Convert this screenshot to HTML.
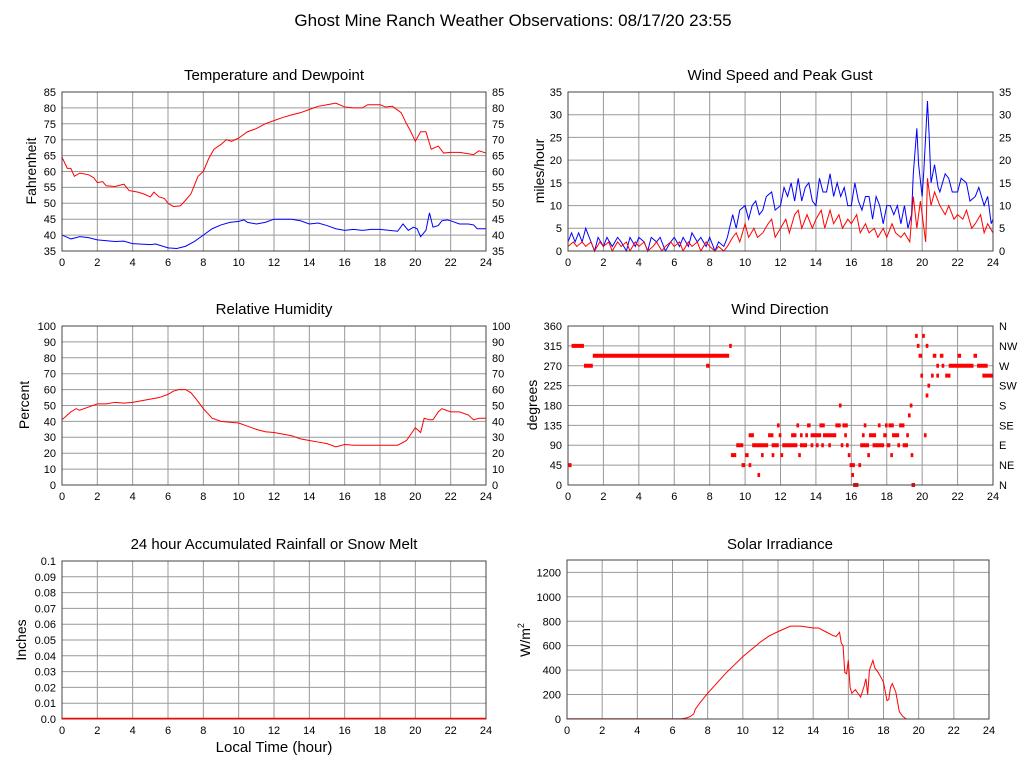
<!DOCTYPE html>
<html><head><meta charset="utf-8"><style>
html,body{margin:0;padding:0;background:#fff}
svg{display:block;font-family:"Liberation Sans",Arial,sans-serif}
.g{stroke:#999;stroke-width:1;fill:none;vector-effect:non-scaling-stroke}
.f{fill:none;stroke:#444;stroke-width:1}
.r{stroke:#f00;fill:none;stroke-width:1;vector-effect:non-scaling-stroke}
.b{stroke:#00f;fill:none;stroke-width:1;vector-effect:non-scaling-stroke}
.d{stroke:#f00;fill:none;stroke-width:4;vector-effect:non-scaling-stroke}
text{font-size:11px;fill:#000}
.t{font-size:15px}
.a{font-size:14px}
</style></head><body>
<svg width="1027" height="772" viewBox="0 0 1027 772">
<text x="513" y="26" class="t" style="font-size:17px" text-anchor="middle">Ghost Mine Ranch Weather Observations: 08/17/20 23:55</text>

<!-- A: Temperature -->
<text x="274" y="80" class="t" text-anchor="middle">Temperature and Dewpoint</text>
<g transform="translate(62,251) scale(17.667,-3.18) translate(0,-35)">
<path class="g" d="M2 35V85M4 35V85M6 35V85M8 35V85M10 35V85M12 35V85M14 35V85M16 35V85M18 35V85M20 35V85M22 35V85M0 40H24M0 45H24M0 50H24M0 55H24M0 60H24M0 65H24M0 70H24M0 75H24M0 80H24"/>
<polyline class="r" points="0,64.5 0.3,61 0.5,61 0.7,58.5 1,59.5 1.5,59 1.8,58 2,56.5 2.3,56.8 2.5,55.5 3,55.3 3.5,56 3.8,54 4.3,53.5 4.6,53 5,52 5.2,53.5 5.5,52 5.8,51.5 6,50 6.3,49 6.7,49.2 7,51 7.3,53 7.7,58.5 8,60 8.3,64 8.6,67 9,68.5 9.3,70 9.6,69.5 10,70.5 10.5,72.5 11,73.5 11.5,75 12,76 12.5,77 13,77.8 13.5,78.5 14,79.5 14.5,80.5 15,81 15.5,81.5 16,80.3 16.5,80 17,80 17.3,81 18,81 18.3,80.3 18.7,80.5 19.2,78.5 19.5,75 19.7,73 20,69.5 20.3,72.5 20.6,72.5 20.9,67 21.3,68 21.6,65.8 22,66 22.5,66 23.3,65.3 23.6,66.5 24,65.8"/>
<polyline class="b" points="0,40 0.3,39.3 0.5,38.8 0.8,39.2 1,39.5 1.5,39.2 2,38.5 3,38 3.5,38.1 4,37.3 5,37 5.3,37.2 6,36 6.5,35.8 7,36.5 7.5,38 8,40 8.5,42 9,43.2 9.5,44 10,44.3 10.3,44.8 10.5,44 11,43.5 11.5,44 12,45 13,45 13.5,44.5 14,43.5 14.5,43.8 15,43 15.5,42 16,41.5 16.5,41.8 17,41.5 17.5,41.8 18,41.8 19,41.2 19.3,43.5 19.6,41.5 19.9,42.5 20.1,42 20.3,39.5 20.6,41.5 20.8,47 21,42.5 21.3,43 21.5,44.5 21.8,44.8 22,44.5 22.5,43.5 23,43.5 23.3,43.2 23.5,42 24,42"/>
</g>
<rect class="f" x="62" y="92" width="424" height="159"/>
<g text-anchor="end"><text x="56" y="255">35</text><text x="56" y="239">40</text><text x="56" y="223">45</text><text x="56" y="207">50</text><text x="56" y="191">55</text><text x="56" y="175.5">60</text><text x="56" y="159.5">65</text><text x="56" y="143.5">70</text><text x="56" y="128">75</text><text x="56" y="112">80</text><text x="56" y="96">85</text></g>
<g><text x="492" y="255">35</text><text x="492" y="239">40</text><text x="492" y="223">45</text><text x="492" y="207">50</text><text x="492" y="191">55</text><text x="492" y="175.5">60</text><text x="492" y="159.5">65</text><text x="492" y="143.5">70</text><text x="492" y="128">75</text><text x="492" y="112">80</text><text x="492" y="96">85</text></g>
<g text-anchor="middle"><text x="62" y="266">0</text><text x="97.3" y="266">2</text><text x="132.7" y="266">4</text><text x="168" y="266">6</text><text x="203.3" y="266">8</text><text x="238.7" y="266">10</text><text x="274" y="266">12</text><text x="309.3" y="266">14</text><text x="344.7" y="266">16</text><text x="380" y="266">18</text><text x="415.3" y="266">20</text><text x="450.7" y="266">22</text><text x="486" y="266">24</text></g>
<text class="a" transform="translate(36,171) rotate(-90)" text-anchor="middle">Fahrenheit</text>

<!-- B: Wind speed -->
<text x="780" y="80" class="t" text-anchor="middle">Wind Speed and Peak Gust</text>
<g transform="translate(568,251) scale(17.708,-4.543)">
<path class="g" d="M2 0V35M4 0V35M6 0V35M8 0V35M10 0V35M12 0V35M14 0V35M16 0V35M18 0V35M20 0V35M22 0V35M0 5H24M0 10H24M0 15H24M0 20H24M0 25H24M0 30H24"/>
<polyline class="b" points="0,2 0.2,4 0.4,2 0.6,4 0.8,2 1,5 1.2,3 1.5,0 1.7,3 2,1 2.2,3 2.5,1 2.8,3 3,2 3.3,0 3.5,3 3.8,1 4,3 4.3,2 4.5,0 4.7,3 5,2 5.2,3 5.5,0 5.8,2 6,3 6.3,1 6.5,3 6.8,1 7,4 7.3,2 7.5,3 7.8,1 8,3 8.3,0 8.5,2 8.8,1 9,3 9.3,8 9.5,5 9.7,9 10,10 10.2,7 10.4,10 10.6,11 10.8,8 11,9 11.2,12 11.5,13 11.7,9 12,10 12.2,14 12.4,12 12.6,15 12.8,11 13,16 13.2,11 13.4,14 13.6,15 13.8,11 14,10 14.2,16 14.4,13 14.6,13 14.8,17 15,12 15.2,15 15.4,12 15.6,14 15.8,10 16,10 16.2,15 16.4,11 16.6,9 16.8,12 17,12 17.2,7 17.4,12 17.6,10 17.8,6 18,10 18.2,10 18.4,8 18.6,10 18.8,6 19,10 19.2,5 19.4,8 19.5,17 19.7,27 19.8,19 20,12 20.1,18 20.3,33 20.4,25 20.5,15 20.7,19 20.9,14 21,13 21.3,17 21.5,16 21.7,13 22,13 22.2,16 22.5,15 22.7,11 23,12 23.2,14 23.5,10 23.7,12 23.9,6 24,7"/>
<polyline class="r" points="0,1 0.3,2 0.5,1 0.8,2 1,1 1.3,2 1.5,0 1.8,2 2,1 2.3,2 2.5,0 2.8,2 3,1 3.3,2 3.5,0 3.8,2 4,1 4.3,2 4.5,0 4.8,1 5,2 5.3,0 5.5,1 5.8,2 6,1 6.3,2 6.5,0 6.8,2 7,1 7.3,2 7.5,0 7.8,2 8,1 8.3,0 8.5,1 8.8,0 9,1 9.3,3 9.5,4 9.7,2 10,6 10.2,3 10.5,5 10.7,3 11,4 11.3,6 11.5,7 11.7,3 12,5 12.3,7 12.5,4 12.8,8 13,9 13.2,5 13.5,8 13.8,5 14,7 14.3,9 14.5,5 14.8,9 15,6 15.3,8 15.5,5 15.8,7 16,6 16.3,8 16.5,4 16.8,6 17,4 17.3,5 17.5,3 17.8,5 18,3 18.3,6 18.5,4 18.8,3 19,4 19.3,2 19.5,12 19.7,5 19.9,11 20,8 20.2,2 20.3,16 20.5,10 20.7,13 21,10 21.3,8 21.5,10 21.8,7 22,8 22.3,7 22.5,9 22.8,5 23,6 23.3,8 23.5,4 23.7,6 24,4"/>
</g>
<rect class="f" x="568" y="92" width="425" height="159"/>
<g text-anchor="end"><text x="562" y="255">0</text><text x="562" y="232">5</text><text x="562" y="209.5">10</text><text x="562" y="187">15</text><text x="562" y="164">20</text><text x="562" y="141.5">25</text><text x="562" y="118.5">30</text><text x="562" y="96">35</text></g>
<g><text x="999" y="255">0</text><text x="999" y="232">5</text><text x="999" y="209.5">10</text><text x="999" y="187">15</text><text x="999" y="164">20</text><text x="999" y="141.5">25</text><text x="999" y="118.5">30</text><text x="999" y="96">35</text></g>
<g text-anchor="middle"><text x="568" y="266">0</text><text x="603.4" y="266">2</text><text x="638.8" y="266">4</text><text x="674.3" y="266">6</text><text x="709.7" y="266">8</text><text x="745.1" y="266">10</text><text x="780.5" y="266">12</text><text x="815.9" y="266">14</text><text x="851.3" y="266">16</text><text x="886.8" y="266">18</text><text x="922.2" y="266">20</text><text x="957.6" y="266">22</text><text x="993" y="266">24</text></g>
<text class="a" transform="translate(544,171) rotate(-90)" text-anchor="middle">miles/hour</text>

<!-- C: Humidity -->
<text x="274" y="314" class="t" text-anchor="middle">Relative Humidity</text>
<g transform="translate(62,485) scale(17.667,-1.59)">
<path class="g" d="M2 0V100M4 0V100M6 0V100M8 0V100M10 0V100M12 0V100M14 0V100M16 0V100M18 0V100M20 0V100M22 0V100M0 10H24M0 20H24M0 30H24M0 40H24M0 50H24M0 60H24M0 70H24M0 80H24M0 90H24"/>
<polyline class="r" points="0,41 0.3,44 0.5,46 0.8,48 1,47 1.5,49 2,51 2.5,51 3,52 3.5,51.5 4,52 4.5,53 5,54 5.5,55 6,57 6.3,59 6.6,60 7,60 7.3,58 7.6,54 8,48 8.5,42 9,40 9.5,39.5 10,39 10.5,37 11,35 11.5,33.5 12,33 12.5,32 13,31 13.5,29 14,28 14.5,27 15,26 15.5,24 16,25.5 16.5,25 17,25 18,25 19,25 19.5,28 20,36 20.3,33 20.5,42 20.8,41 21,41 21.3,46 21.5,48 22,46 22.5,46 23,44 23.3,41 23.6,42 24,42"/>
</g>
<rect class="f" x="62" y="326" width="424" height="159"/>
<g text-anchor="end"><text x="56" y="489">0</text><text x="56" y="473">10</text><text x="56" y="457">20</text><text x="56" y="441">30</text><text x="56" y="425.5">40</text><text x="56" y="409.5">50</text><text x="56" y="393.5">60</text><text x="56" y="377.5">70</text><text x="56" y="362">80</text><text x="56" y="346">90</text><text x="56" y="330">100</text></g>
<g><text x="492" y="489">0</text><text x="492" y="473">10</text><text x="492" y="457">20</text><text x="492" y="441">30</text><text x="492" y="425.5">40</text><text x="492" y="409.5">50</text><text x="492" y="393.5">60</text><text x="492" y="377.5">70</text><text x="492" y="362">80</text><text x="492" y="346">90</text><text x="492" y="330">100</text></g>
<g text-anchor="middle"><text x="62" y="500">0</text><text x="97.3" y="500">2</text><text x="132.7" y="500">4</text><text x="168" y="500">6</text><text x="203.3" y="500">8</text><text x="238.7" y="500">10</text><text x="274" y="500">12</text><text x="309.3" y="500">14</text><text x="344.7" y="500">16</text><text x="380" y="500">18</text><text x="415.3" y="500">20</text><text x="450.7" y="500">22</text><text x="486" y="500">24</text></g>
<text class="a" transform="translate(29,405) rotate(-90)" text-anchor="middle">Percent</text>

<!-- D: Wind direction -->
<text x="780" y="314" class="t" text-anchor="middle">Wind Direction</text>
<g transform="translate(568,485) scale(17.708,-0.4417)">
<path class="g" d="M2 0V360M4 0V360M6 0V360M8 0V360M10 0V360M12 0V360M14 0V360M16 0V360M18 0V360M20 0V360M22 0V360M0 45H24M0 90H24M0 135H24M0 180H24M0 225H24M0 270H24M0 315H24"/>
<path class="d" d="M0 45h0.2M0.2 315h0.7M0.9 270h0.5M1.4 292.5h7.7M7.8 270h0.2M9.1 315h0.15
M9.2 67.5h0.3M9.5 90h0.4M9.8 45h0.2M10 67.5h0.2M10.2 112.5h0.3M10.2 45h0.15M10.4 90h0.8M10.7 22.5h0.15M10.9 67.5h0.15M11 90h0.3M11.3 112.5h0.3M11.5 67.5h0.15M11.5 90h0.4M11.8 135h0.15M11.9 112.5h0.15M12 67.5h0.15M12.1 90h0.7M12.6 112.5h0.3M12.9 135h0.15M12.8 90h0.15M13 67.5h0.15M13.1 112.5h0.15M13.1 90h0.4M13.4 112.5h0.15M13.5 135h0.2M13.7 90h0.15M13.7 112.5h0.6M14 90h0.15M14.2 135h0.3M14.3 90h0.15M14.4 112.5h0.7M14.7 90h0.15M15 112.5h0.15M15.1 135h0.3M15.3 180h0.15M15.4 90h0.15M15.5 135h0.3M15.6 112.5h0.15M15.7 90h0.15M15.8 67.5h0.15M15.9 45h0.3M16 22.5h0.15M16.1 0h0.3M16.4 45h0.15M16.5 90h0.5M16.7 135h0.15M16.6 112.5h0.15M16.9 67.5h0.15M17 112.5h0.4M17.2 90h0.5M17.5 135h0.15M17.7 90h0.15M17.8 112.5h0.2M17.9 135h0.15M18 90h0.2M18.1 135h0.3M18.2 67.5h0.15M18.3 112.5h0.4M18.6 90h0.15M18.7 135h0.3M18.9 90h0.3M19.1 112.5h0.15M19.2 157.5h0.15M19.3 180h0.15M19.35 67.5h0.15M19.4 0h0.2M19.6 337.5h0.15M19.7 315h0.15M19.8 292.5h0.2M19.9 247.5h0.15M20 337.5h0.15M20.1 112.5h0.15M20.2 315h0.15M20.2 202.5h0.15M20.3 225h0.15M20.5 247.5h0.15M20.6 292.5h0.2M20.8 247.5h0.15M20.8 270h0.15M21 292.5h0.2M21.1 270h0.15M21.3 247.5h0.3M21.5 270h0.7M22 292.5h0.2M22.1 270h0.8M22.9 292.5h0.2M23.1 270h0.6M23.4 247.5h0.6"/>
</g>
<rect class="f" x="568" y="326" width="425" height="159"/>
<g text-anchor="end"><text x="562" y="489">0</text><text x="562" y="469">45</text><text x="562" y="449">90</text><text x="562" y="429.5">135</text><text x="562" y="409.5">180</text><text x="562" y="389.5">225</text><text x="562" y="370">270</text><text x="562" y="350">315</text><text x="562" y="330">360</text></g>
<g><text x="999" y="489">N</text><text x="999" y="469">NE</text><text x="999" y="449">E</text><text x="999" y="429.5">SE</text><text x="999" y="409.5">S</text><text x="999" y="389.5">SW</text><text x="999" y="370">W</text><text x="999" y="350">NW</text><text x="999" y="330">N</text></g>
<g text-anchor="middle"><text x="568" y="500">0</text><text x="603.4" y="500">2</text><text x="638.8" y="500">4</text><text x="674.3" y="500">6</text><text x="709.7" y="500">8</text><text x="745.1" y="500">10</text><text x="780.5" y="500">12</text><text x="815.9" y="500">14</text><text x="851.3" y="500">16</text><text x="886.8" y="500">18</text><text x="922.2" y="500">20</text><text x="957.6" y="500">22</text><text x="993" y="500">24</text></g>
<text class="a" transform="translate(537,405) rotate(-90)" text-anchor="middle">degrees</text>

<!-- E: Rainfall -->
<text x="274" y="549" class="t" text-anchor="middle">24 hour Accumulated Rainfall or Snow Melt</text>
<g transform="translate(62,719) scale(17.667,-1580)">
<path class="g" d="M2 0V0.1M4 0V0.1M6 0V0.1M8 0V0.1M10 0V0.1M12 0V0.1M14 0V0.1M16 0V0.1M18 0V0.1M20 0V0.1M22 0V0.1M0 0.01H24M0 0.02H24M0 0.03H24M0 0.04H24M0 0.05H24M0 0.06H24M0 0.07H24M0 0.08H24M0 0.09H24"/>
</g>
<rect class="f" x="62" y="561" width="424" height="158"/>
<line x1="62" y1="718.5" x2="486" y2="718.5" stroke="#f00" stroke-width="1.5"/>
<g text-anchor="end"><text x="56" y="723">0.0</text><text x="56" y="707">0.01</text><text x="56" y="691.5">0.02</text><text x="56" y="675.5">0.03</text><text x="56" y="660">0.04</text><text x="56" y="644">0.05</text><text x="56" y="628">0.06</text><text x="56" y="612.5">0.07</text><text x="56" y="596.5">0.08</text><text x="56" y="581">0.09</text><text x="56" y="565">0.1</text></g>
<g text-anchor="middle"><text x="62" y="734">0</text><text x="97.3" y="734">2</text><text x="132.7" y="734">4</text><text x="168" y="734">6</text><text x="203.3" y="734">8</text><text x="238.7" y="734">10</text><text x="274" y="734">12</text><text x="309.3" y="734">14</text><text x="344.7" y="734">16</text><text x="380" y="734">18</text><text x="415.3" y="734">20</text><text x="450.7" y="734">22</text><text x="486" y="734">24</text></g>
<text class="a" transform="translate(26,640) rotate(-90)" text-anchor="middle">Inches</text>
<text x="274" y="752" class="t" text-anchor="middle">Local Time (hour)</text>

<!-- F: Solar -->
<text x="780" y="549" class="t" text-anchor="middle">Solar Irradiance</text>
<g transform="translate(567,719) scale(17.583,-0.1222)">
<path class="g" d="M2 0V1300M4 0V1300M6 0V1300M8 0V1300M10 0V1300M12 0V1300M14 0V1300M16 0V1300M18 0V1300M20 0V1300M22 0V1300M0 200H24M0 400H24M0 600H24M0 800H24M0 1000H24M0 1200H24"/>
<polyline class="r" points="0,2 6.5,2 6.8,8 7,20 7.2,40 7.3,80 7.6,140 8,210 9,370 10,510 11,630 11.5,680 12,715 12.7,760 13.3,760 14,745 14.3,745 14.7,715 15.1,685 15.3,675 15.5,710 15.6,620 15.7,600 15.8,380 15.9,370 16,480 16.1,260 16.2,210 16.4,240 16.7,180 16.9,270 17,330 17.1,200 17.2,400 17.4,480 17.5,420 17.7,380 17.9,330 18,300 18.2,150 18.3,160 18.4,260 18.5,290 18.7,220 18.9,60 19.1,20 19.3,0 24,0"/>
</g>
<rect class="f" x="567" y="560" width="422" height="159"/>
<g text-anchor="end"><text x="561" y="723">0</text><text x="561" y="698.6">200</text><text x="561" y="674.2">400</text><text x="561" y="649.7">600</text><text x="561" y="625.3">800</text><text x="561" y="600.9">1000</text><text x="561" y="576.5">1200</text></g>
<g text-anchor="middle"><text x="567" y="734">0</text><text x="602.2" y="734">2</text><text x="637.3" y="734">4</text><text x="672.5" y="734">6</text><text x="707.7" y="734">8</text><text x="742.8" y="734">10</text><text x="778" y="734">12</text><text x="813.2" y="734">14</text><text x="848.3" y="734">16</text><text x="883.5" y="734">18</text><text x="918.7" y="734">20</text><text x="953.8" y="734">22</text><text x="989" y="734">24</text></g>
<text class="a" transform="translate(530,640) rotate(-90)" text-anchor="middle">W/m<tspan dy="-6" style="font-size:9px">2</tspan></text>
</svg>
</body></html>
